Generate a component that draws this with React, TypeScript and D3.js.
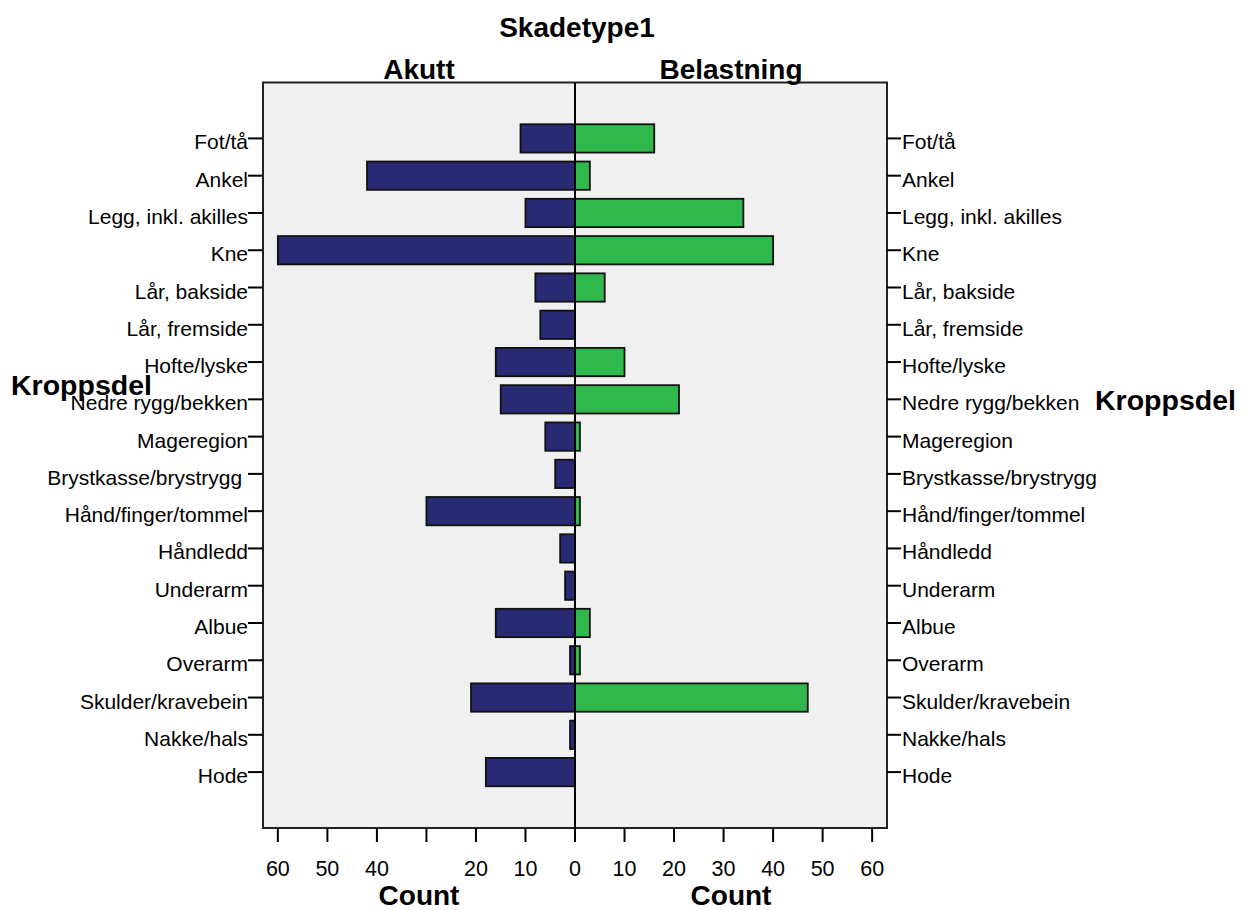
import React from "react";
import * as d3 from "d3";

const categories = [
  "Fot/tå",
  "Ankel",
  "Legg, inkl. akilles",
  "Kne",
  "Lår, bakside",
  "Lår, fremside",
  "Hofte/lyske",
  "Nedre rygg/bekken",
  "Mageregion",
  "Brystkasse/brystrygg",
  "Hånd/finger/tommel",
  "Håndledd",
  "Underarm",
  "Albue",
  "Overarm",
  "Skulder/kravebein",
  "Nakke/hals",
  "Hode",
];
const leftCategoryLabels = categories.map((c) =>
  c === "Brystkasse/brystrygg" ? "Brystkasse/brystrygg " : c
);

const akutt = [11, 42, 10, 60, 8, 7, 16, 15, 6, 4, 30, 3, 2, 16, 1, 21, 1, 18];
const belastning = [16, 3, 34, 40, 6, 0, 10, 21, 1, 0, 1, 0, 0, 3, 1, 47, 0, 0];

const leftTicks = [60, 50, 40, 30, 20, 10, 0];
const leftTickLabels = ["60", "50", "40", "", "20", "10", "0"];
const rightTicks = [0, 10, 20, 30, 40, 50, 60];
const rightTickLabels = ["0", "10", "20", "30", "40", "50", "60"];

const title = "Skadetype1";
const panelTitles = ["Akutt", "Belastning"];
const yTitle = "Kroppsdel";
const xTitle = "Count";

const W = 1248;
const H = 910;
const plot = { left: 263, right: 887, top: 82.5, bottom: 828 };
const NAVY = "#282A73";
const GREEN = "#2FB84B";
const FONT = "Arial, 'Liberation Sans', Helvetica, sans-serif";

export default function App() {
  const x = d3.scaleLinear().domain([-63, 63]).range([plot.left, plot.right]);
  const y = d3
    .scaleBand<string>()
    .domain(categories)
    .range([plot.top, plot.bottom])
    .paddingInner(0.24)
    .paddingOuter(1.12);
  const bw = y.bandwidth();
  const cx = x(0);
  const leftMid = (plot.left + cx) / 2;
  const rightMid = (cx + plot.right) / 2;

  return (
    <svg
      width={W}
      height={H}
      style={{ position: "absolute", left: 0, top: 0, background: "#fff" }}
      fontFamily={FONT}
    >
      <rect
        x={plot.left}
        y={plot.top}
        width={plot.right - plot.left}
        height={plot.bottom - plot.top}
        fill="#F0F0F0"
      />
      {categories.map((c, i) => {
        const v = akutt[i];
        return v > 0 ? (
          <rect
            key={"a" + c}
            x={x(-v)}
            y={y(c)}
            width={cx - x(-v)}
            height={bw}
            fill={NAVY}
            stroke="#111"
            strokeWidth={1.8}
          />
        ) : null;
      })}
      {categories.map((c, i) => {
        const v = belastning[i];
        return v > 0 ? (
          <rect
            key={"b" + c}
            x={cx}
            y={y(c)}
            width={x(v) - cx}
            height={bw}
            fill={GREEN}
            stroke="#111"
            strokeWidth={1.8}
          />
        ) : null;
      })}
      <rect
        x={plot.left}
        y={plot.top}
        width={plot.right - plot.left}
        height={plot.bottom - plot.top}
        fill="none"
        stroke="#222"
        strokeWidth={2}
      />
      <line x1={cx} x2={cx} y1={plot.top} y2={plot.bottom} stroke="#000" strokeWidth={2} />

      {/* left category axis */}
      {categories.map((c, i) => {
        const yc = (y(c) as number) + bw / 2;
        return (
          <g key={"l" + c}>
            <line x1={plot.left - 15} x2={plot.left} y1={yc} y2={yc} stroke="#000" strokeWidth={2} />
            <text x={plot.left - 15} y={yc + 11} textAnchor="end" fontSize={21} fill="#000" style={{ whiteSpace: "pre" }}>
              {leftCategoryLabels[i]}
            </text>
          </g>
        );
      })}
      {/* right category axis */}
      {categories.map((c) => {
        const yc = (y(c) as number) + bw / 2;
        return (
          <g key={"r" + c}>
            <line x1={plot.right} x2={plot.right + 14} y1={yc} y2={yc} stroke="#000" strokeWidth={2} />
            <text x={plot.right + 15} y={yc + 11} textAnchor="start" fontSize={21} fill="#000">
              {c}
            </text>
          </g>
        );
      })}

      {/* bottom axes */}
      {leftTicks.map((t, i) => (
        <g key={"lt" + t}>
          <line x1={x(-t)} x2={x(-t)} y1={plot.bottom} y2={plot.bottom + 14} stroke="#000" strokeWidth={2} />
          <text x={x(-t)} y={876} textAnchor="middle" fontSize={21.5} fill="#000">
            {leftTickLabels[i]}
          </text>
        </g>
      ))}
      {rightTicks.map((t, i) =>
        t === 0 ? null : (
          <g key={"rt" + t}>
            <line x1={x(t)} x2={x(t)} y1={plot.bottom} y2={plot.bottom + 14} stroke="#000" strokeWidth={2} />
            <text x={x(t)} y={876} textAnchor="middle" fontSize={21.5} fill="#000">
              {rightTickLabels[i]}
            </text>
          </g>
        )
      )}

      {/* titles */}
      <text x={577} y={37} textAnchor="middle" fontSize={28} fontWeight="bold" fill="#000">
        {title}
      </text>
      <text x={leftMid} y={79} textAnchor="middle" fontSize={28} fontWeight="bold" fill="#000">
        {panelTitles[0]}
      </text>
      <text x={rightMid} y={79} textAnchor="middle" fontSize={28} fontWeight="bold" fill="#000">
        {panelTitles[1]}
      </text>
      <text x={11} y={395} textAnchor="start" fontSize={28.5} fontWeight="bold" fill="#000">
        {yTitle}
      </text>
      <text x={1095} y={410} textAnchor="start" fontSize={28.5} fontWeight="bold" fill="#000">
        {yTitle}
      </text>
      <text x={leftMid} y={905} textAnchor="middle" fontSize={28} fontWeight="bold" fill="#000">
        {xTitle}
      </text>
      <text x={rightMid} y={905} textAnchor="middle" fontSize={28} fontWeight="bold" fill="#000">
        {xTitle}
      </text>
    </svg>
  );
}
